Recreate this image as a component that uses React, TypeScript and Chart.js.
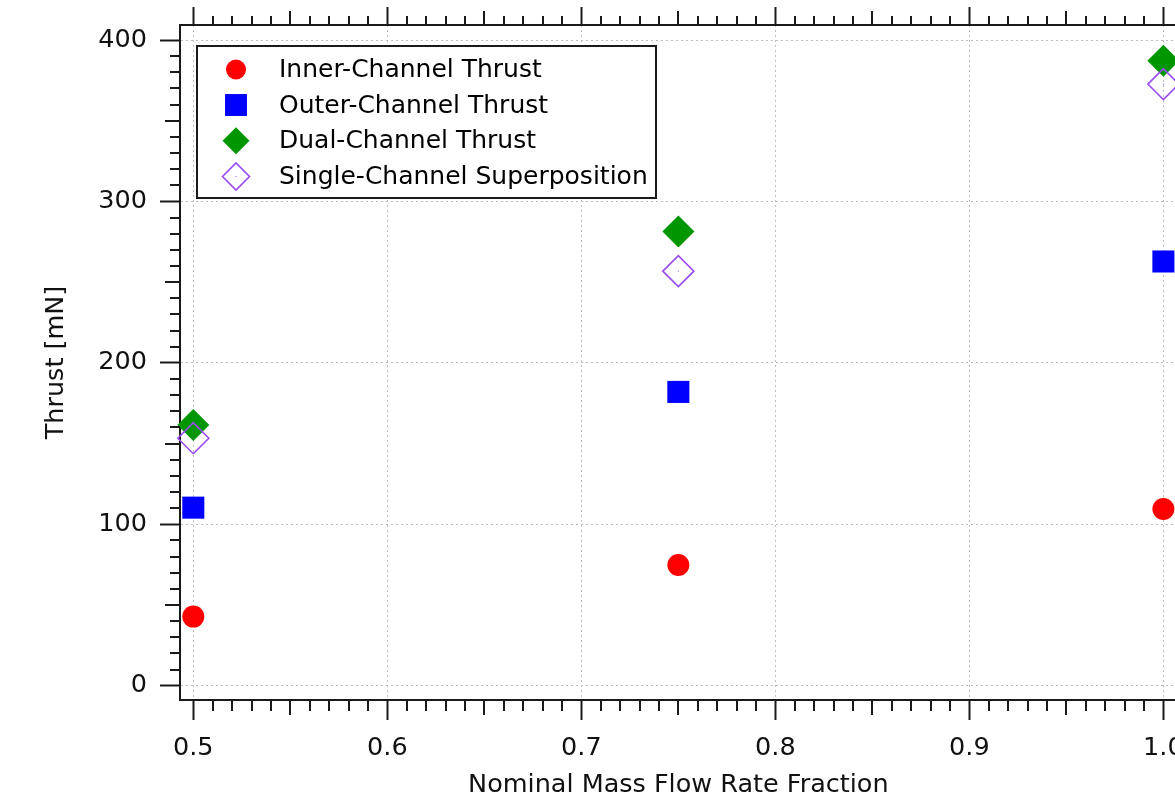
import React, { useEffect, useRef } from 'react';
import { Chart, registerables } from 'chart.js';
import { drawPoint } from 'chart.js/helpers';

Chart.register(...registerables);

// ---- data ----
const flowFractions = [0.5, 0.75, 1.0];
const innerThrust = [42.8, 74.8, 109.5];
const outerThrust = [110.3, 182, 262.8];
const dualThrust = [161.5, 281.3, 387.2];
const superpositionThrust = [153.3, 256.8, 372.7];
const seriesLabels = [
  'Inner-Channel Thrust',
  'Outer-Channel Thrust',
  'Dual-Channel Thrust',
  'Single-Channel Superposition',
];
const xTickValues = [0.5, 0.6, 0.7, 0.8, 0.9, 1.0];
const yTickValues = [0, 100, 200, 300, 400];
const xTitle = 'Nominal Mass Flow Rate Fraction';
const yTitle = 'Thrust [mN]';

// ---- styling ----
const X_MIN = 0.49314;
const X_MAX = 1.00686;
const Y_MIN = -8.86;
const Y_MAX = 409.3;
const FONT = 'DejaVu Sans';
const INK = '#1a1a1a';
const GRID = '#bdbdbd';
const RED = '#ff0000';
const BLUE = '#0000ff';
const GREEN = '#009600';
const PURPLE = '#9a4cf2';

const seriesStyles = [
  { color: RED, pointStyle: 'circle', radius: 11, legendRadius: 10, fill: true },
  { color: BLUE, pointStyle: 'rect', radius: 15.6, legendRadius: 15.5, fill: true },
  { color: GREEN, pointStyle: 'rectRot', radius: 16, legendRadius: 13.5, fill: true },
  { color: PURPLE, pointStyle: 'rectRot', radius: 15.5, legendRadius: 13.5, fill: false },
];

const minorTicksPlugin = {
  id: 'minorTicks',
  afterDraw(chart: any) {
    const { ctx, chartArea } = chart;
    const xs = chart.scales.x;
    const ys = chart.scales.y;
    ctx.save();
    ctx.strokeStyle = INK;
    ctx.lineWidth = 2;
    ctx.beginPath();
    // x minor ticks every 0.01, medium every 0.05
    for (let i = 0; i <= 50; i++) {
      if (i % 10 === 0) continue;
      const v = 0.5 + i / 100;
      const px = Math.round(xs.getPixelForValue(v));
      const med = i % 5 === 0;
      const lb = med ? 15 : 11;
      const lt = med ? 14 : 9;
      ctx.moveTo(px, chartArea.bottom);
      ctx.lineTo(px, chartArea.bottom + lb);
      ctx.moveTo(px, chartArea.top);
      ctx.lineTo(px, chartArea.top - lt);
    }
    // y minor ticks every 10, medium every 50
    for (let i = 0; i <= 40; i++) {
      if (i % 10 === 0) continue;
      const v = i * 10;
      const py = Math.round(ys.getPixelForValue(v));
      const len = i % 5 === 0 ? 15 : 10;
      ctx.moveTo(chartArea.left, py);
      ctx.lineTo(chartArea.left - len, py);
    }
    ctx.stroke();
    ctx.restore();
  },
};

const centerDotPlugin = {
  id: 'centerDots',
  afterDatasetsDraw(chart: any) {
    const { ctx } = chart;
    const meta = chart.getDatasetMeta(3);
    ctx.save();
    ctx.fillStyle = PURPLE;
    meta.data.forEach((pt: any) => {
      ctx.fillRect(pt.x - 0.5, pt.y - 0.5, 1, 1);
    });
    ctx.restore();
  },
};

const legendPlugin = {
  id: 'boxLegend',
  afterDraw(chart: any) {
    const { ctx } = chart;
    const left = 197;
    const top = 46;
    const w = 459;
    const h = 152;
    ctx.save();
    ctx.fillStyle = '#ffffff';
    ctx.fillRect(left, top, w, h);
    ctx.strokeStyle = INK;
    ctx.lineWidth = 2;
    ctx.strokeRect(left, top, w, h);
    const rowY = [69.5, 105, 140.8, 176.5];
    seriesLabels.forEach((label, i) => {
      const st = seriesStyles[i];
      ctx.fillStyle = st.fill ? st.color : 'rgba(0,0,0,0)';
      ctx.strokeStyle = st.color;
      ctx.lineWidth = st.fill ? 0 : 1.6;
      drawPoint(ctx, { pointStyle: st.pointStyle as any, radius: st.legendRadius, rotation: 0, borderWidth: st.fill ? 0 : 1.6 } as any, 236, rowY[i]);
      if (!st.fill) {
        ctx.fillStyle = st.color;
        ctx.fillRect(235.5, rowY[i] - 0.5, 1, 1);
      }
      ctx.fillStyle = '#000000';
      ctx.font = `25px "${FONT}"`;
      ctx.textAlign = 'left';
      ctx.textBaseline = 'middle';
      ctx.fillText(label, 279, rowY[i] + 1);
    });
    ctx.restore();
  },
};

export default function App() {
  const canvasRef = useRef<HTMLCanvasElement | null>(null);

  useEffect(() => {
    const canvas = canvasRef.current;
    if (!canvas) return;
    const tickFont = { family: FONT, size: 25.5, lineHeight: 1.2 };
    const titleFont = { family: FONT, size: 25.5, lineHeight: 1.0 };
    const datasets = [innerThrust, outerThrust, dualThrust, superpositionThrust].map((vals, i) => {
      const st = seriesStyles[i];
      return {
        label: seriesLabels[i],
        data: flowFractions.map((x, j) => ({ x, y: vals[j] })),
        pointStyle: st.pointStyle,
        pointRadius: st.radius,
        pointHoverRadius: st.radius,
        backgroundColor: st.fill ? st.color : 'rgba(0,0,0,0)',
        borderColor: st.color,
        pointBorderWidth: st.fill ? 0 : 1.6,
        borderWidth: st.fill ? 0 : 1.6,
        showLine: false,
        clip: false as any,
        order: i === 3 ? 0 : 1,
      };
    });

    const chart = new Chart(canvas, {
      type: 'scatter',
      data: { datasets: datasets as any },
      options: {
        animation: false,
        responsive: false,
        devicePixelRatio: 1,
        layout: { padding: { left: 0, top: 0, right: 23.3, bottom: 0 } },
        plugins: { legend: { display: false }, tooltip: { enabled: false } },
        scales: {
          x: {
            type: 'linear',
            position: 'bottom',
            min: X_MIN,
            max: X_MAX,
            afterBuildTicks: (s: any) => {
              s.ticks = xTickValues.map((v) => ({ value: v }));
            },
            afterFit: (s: any) => {
              s.height = 100;
              s.paddingLeft = 0;
              s.paddingRight = 0;
            },
            ticks: {
              autoSkip: false,
              maxRotation: 0,
              padding: 13,
              color: '#111111',
              font: tickFont,
              callback: (v: any) => Number(v).toFixed(1),
            },
            grid: { color: GRID, lineWidth: 1, tickLength: 20, tickColor: INK, tickWidth: 2 },
            border: { display: true, color: INK, width: 2, dash: [2, 3] },
            title: {
              display: true,
              text: xTitle,
              color: '#111111',
              font: titleFont,
              padding: { top: 0, bottom: 2 },
            },
          },
          x2: {
            type: 'linear',
            position: 'top',
            min: X_MIN,
            max: X_MAX,
            afterBuildTicks: (s: any) => {
              s.ticks = xTickValues.map((v) => ({ value: v }));
            },
            afterFit: (s: any) => {
              s.height = 25;
              s.paddingLeft = 0;
              s.paddingRight = 0;
            },
            ticks: { display: false },
            grid: { drawOnChartArea: false, tickLength: 18, tickColor: INK, tickWidth: 2, color: INK },
            border: { display: true, color: INK, width: 2 },
          },
          y: {
            type: 'linear',
            position: 'left',
            min: Y_MIN,
            max: Y_MAX,
            afterBuildTicks: (s: any) => {
              s.ticks = yTickValues.map((v) => ({ value: v }));
            },
            afterFit: (s: any) => {
              s.width = 180;
              s.paddingTop = 0;
              s.paddingBottom = 0;
            },
            ticks: {
              padding: 13,
              color: '#111111',
              font: tickFont,
              callback: (v: any) => String(v),
            },
            grid: { color: GRID, lineWidth: 1, tickLength: 20, tickColor: INK, tickWidth: 2 },
            border: { display: true, color: INK, width: 2, dash: [2, 3] },
            title: {
              display: true,
              text: yTitle,
              color: '#111111',
              font: tickFont,
              padding: { top: 41, bottom: 0 },
            },
          },
        },
      },
      plugins: [minorTicksPlugin, centerDotPlugin, legendPlugin],
    });
    return () => chart.destroy();
  }, []);

  return (
    <div style={{ position: 'fixed', left: 0, top: 0, width: 1175, height: 800, overflow: 'hidden', background: '#fff' }}>
      <canvas ref={canvasRef} width={1200} height={800} style={{ display: 'block' }} />
    </div>
  );
}
